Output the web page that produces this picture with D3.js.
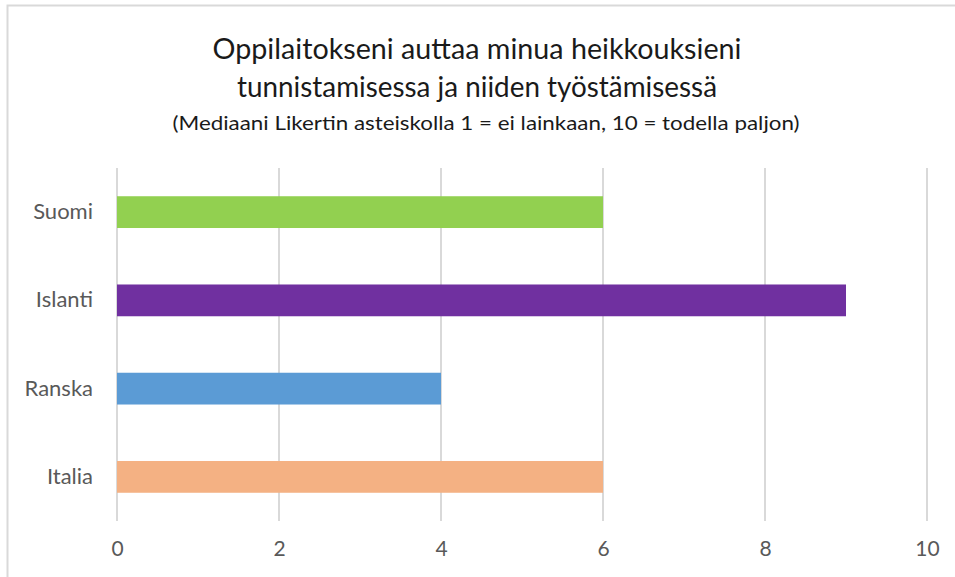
<!DOCTYPE html>
<html>
<head>
<meta charset="utf-8">
<script src="https://cdn.jsdelivr.net/npm/d3@7"></script>
<style>
  body { margin: 0; background: #fff; }
  svg { display: block; font-family: Lato, "Open Sans", sans-serif; }
</style>
</head>
<body>
<div id="chart"></div>
<script>
// data
const categories = ['Suomi', 'Islanti', 'Ranska', 'Italia'];
const medians = [6, 9, 4, 6];
const barColors = ['#92d050', '#7030a0', '#5b9bd5', '#f4b183'];
const xTicks = [0, 2, 4, 6, 8, 10];
const titleLines = ['Oppilaitokseni auttaa minua heikkouksieni', 'tunnistamisessa ja niiden työstämisessä'];
const subtitle = '(Mediaani Likertin asteiskolla 1 = ei lainkaan, 10 = todella paljon)';

const W = 955, H = 577;
const margin = { top: 168, right: 28, bottom: 56, left: 117 };

const svg = d3.select('#chart').append('svg')
  .attr('width', W)
  .attr('height', H);

// chart frame
svg.append('rect')
  .attr('x', 7.5).attr('y', 5.5)
  .attr('width', W + 20).attr('height', H + 20)
  .attr('fill', '#fff')
  .attr('stroke', '#d9d9d9')
  .attr('stroke-width', 2);

// titles
svg.append('text')
  .attr('x', 477).attr('y', 59)
  .attr('text-anchor', 'middle')
  .attr('font-size', 29)
  .attr('fill', '#1a1a1a')
  .attr('textLength', 529).attr('lengthAdjust', 'spacingAndGlyphs')
  .text(titleLines[0]);
svg.append('text')
  .attr('x', 477).attr('y', 97)
  .attr('text-anchor', 'middle')
  .attr('font-size', 29)
  .attr('fill', '#1a1a1a')
  .attr('textLength', 480).attr('lengthAdjust', 'spacingAndGlyphs')
  .text(titleLines[1]);
svg.append('text')
  .attr('x', 486).attr('y', 130)
  .attr('text-anchor', 'middle')
  .attr('font-size', 20)
  .attr('fill', '#1a1a1a')
  .attr('textLength', 627).attr('lengthAdjust', 'spacingAndGlyphs')
  .text(subtitle);

const x = d3.scaleLinear()
  .domain([0, 10])
  .range([margin.left, 927]);

const y = d3.scaleBand()
  .domain(categories)
  .range([margin.top, 521])
  .paddingInner(0.64)
  .paddingOuter(0.32);

// gridlines
svg.append('g')
  .selectAll('line')
  .data(xTicks)
  .join('line')
  .attr('x1', d => x(d)).attr('x2', d => x(d))
  .attr('y1', margin.top).attr('y2', 521)
  .attr('stroke', '#d9d9d9')
  .attr('stroke-width', 2);

// bars
svg.append('g')
  .selectAll('rect')
  .data(categories)
  .join('rect')
  .attr('x', x(0))
  .attr('y', d => y(d))
  .attr('width', (d, i) => x(medians[i]) - x(0))
  .attr('height', y.bandwidth())
  .attr('fill', (d, i) => barColors[i]);

// x axis labels
const xAxis = svg.append('g')
  .attr('transform', 'translate(0,' + 521 + ')')
  .call(d3.axisBottom(x).tickValues(xTicks).tickSize(0).tickPadding(20));
xAxis.select('.domain').remove();
xAxis.selectAll('text')
  .attr('font-size', 21)
  .attr('font-family', 'Lato, sans-serif')
  .attr('fill', '#595959');

// y axis labels
const yAxis = svg.append('g')
  .attr('transform', 'translate(' + 93 + ',0)')
  .call(d3.axisLeft(y).tickSize(0).tickPadding(0));
yAxis.select('.domain').remove();
yAxis.selectAll('text')
  .attr('font-size', 22)
  .attr('font-family', 'Lato, sans-serif')
  .attr('fill', '#595959');
</script>
</body>
</html>
